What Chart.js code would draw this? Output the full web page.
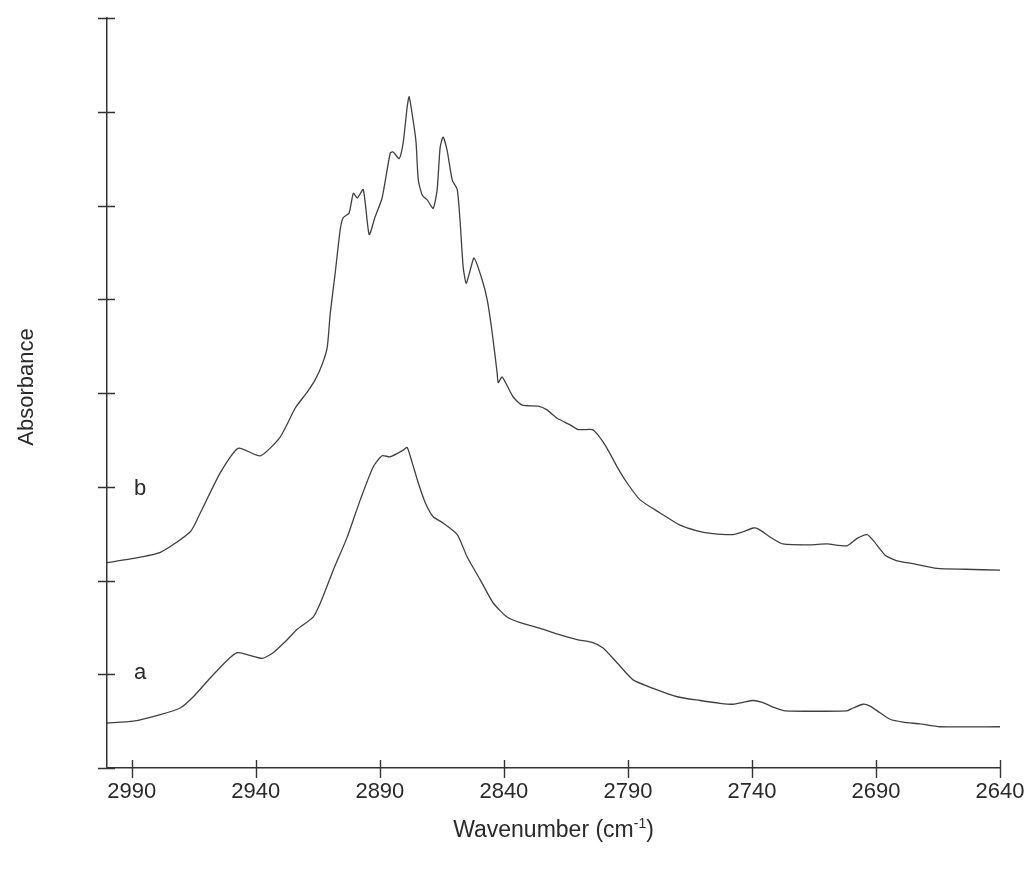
<!DOCTYPE html>
<html>
<head>
<meta charset="utf-8">
<script src="https://cdn.jsdelivr.net/npm/chart.js@4.4.1/dist/chart.umd.min.js"></script>
<style>
  html, body { margin: 0; padding: 0; background: #ffffff; }
  canvas { display: block; }
</style>
</head>
<body>
<canvas id="spectrum" width="1032" height="876"></canvas>
<script>
// Axis ticks (wavenumber axis runs from high to low)
const xTickValues = [2990, 2940, 2890, 2840, 2790, 2740, 2690, 2640];
const yTickValues = [0, 0.1, 0.2, 0.3, 0.4, 0.5, 0.6, 0.7, 0.8];

// Spectrum a
const wavenumberA = [3000.0, 2989.4, 2978.5, 2970.5, 2965.2, 2958.4, 2951.5, 2947.5, 2943.5, 2937.4,
  2933.0, 2927.3, 2923.3, 2916.9, 2914.0, 2908.8, 2903.2, 2897.9, 2892.7, 2889.1,
  2885.8, 2880.6, 2879.0, 2877.0, 2874.5, 2871.7, 2868.5, 2864.9, 2858.8, 2854.8,
  2849.6, 2844.3, 2838.7, 2833.4, 2825.4, 2817.3, 2810.5, 2804.4, 2800.0, 2794.3,
  2787.9, 2779.8, 2770.2, 2760.9, 2752.8, 2747.6, 2743.6, 2739.5, 2735.9, 2731.5,
  2726.6, 2701.7, 2699.2, 2695.2, 2692.4, 2688.4, 2684.3, 2679.1, 2672.2, 2664.2, 2640.0];
const absorbanceA = [0.048, 0.050, 0.057, 0.064, 0.076, 0.096, 0.115, 0.123, 0.121, 0.117,
  0.123, 0.137, 0.148, 0.161, 0.176, 0.211, 0.246, 0.286, 0.321, 0.333,
  0.332, 0.339, 0.342, 0.326, 0.304, 0.283, 0.268, 0.262, 0.249, 0.225,
  0.201, 0.176, 0.161, 0.155, 0.149, 0.142, 0.137, 0.134, 0.128, 0.112,
  0.094, 0.085, 0.076, 0.072, 0.069, 0.068, 0.070, 0.072, 0.070, 0.065,
  0.061, 0.061, 0.064, 0.068, 0.066, 0.059, 0.052, 0.049, 0.047, 0.044, 0.044];

// Spectrum b
const wavenumberB = [3000.0, 2990.6, 2978.5, 2966.4, 2962.4, 2954.3, 2947.1, 2938.2, 2930.2, 2924.1,
  2919.3, 2916.1, 2913.2, 2911.2, 2910.0, 2908.0, 2906.0, 2904.8, 2902.4, 2900.7,
  2899.1, 2896.7, 2894.3, 2891.9, 2889.1, 2885.8, 2884.6, 2882.2, 2880.6, 2879.0,
  2878.2, 2876.6, 2875.4, 2874.5, 2872.9, 2870.9, 2868.5, 2866.9, 2865.7, 2864.5,
  2862.9, 2860.8, 2858.8, 2857.6, 2856.4, 2855.2, 2853.6, 2852.0, 2848.8, 2846.7,
  2844.7, 2842.7, 2842.3, 2840.7, 2836.3, 2832.6, 2826.2, 2822.6, 2818.5, 2813.3,
  2810.1, 2804.4, 2802.0, 2798.4, 2794.3, 2790.3, 2785.1, 2777.0, 2769.0, 2762.1,
  2755.7, 2747.6, 2743.6, 2739.5, 2737.5, 2731.9, 2727.5, 2716.6, 2709.7, 2701.7,
  2697.6, 2693.6, 2691.2, 2686.3, 2681.5, 2675.1, 2665.4, 2654.1, 2640.0];
const absorbanceB = [0.219, 0.223, 0.230, 0.252, 0.272, 0.315, 0.341, 0.333, 0.353, 0.384,
  0.401, 0.414, 0.431, 0.449, 0.485, 0.528, 0.574, 0.587, 0.592, 0.613,
  0.608, 0.617, 0.569, 0.588, 0.608, 0.656, 0.657, 0.650, 0.667, 0.705,
  0.716, 0.691, 0.667, 0.627, 0.611, 0.606, 0.597, 0.617, 0.662, 0.673,
  0.659, 0.627, 0.617, 0.581, 0.534, 0.517, 0.531, 0.544, 0.521, 0.499,
  0.464, 0.421, 0.411, 0.417, 0.396, 0.387, 0.386, 0.382, 0.373, 0.366,
  0.361, 0.361, 0.355, 0.341, 0.321, 0.304, 0.286, 0.272, 0.259, 0.253,
  0.250, 0.249, 0.252, 0.256, 0.255, 0.245, 0.239, 0.238, 0.239, 0.237,
  0.245, 0.249, 0.243, 0.227, 0.221, 0.218, 0.213, 0.212, 0.211];

// Series tags drawn beside each trace
const tagNames = ['a', 'b'];
const tagWavenumber = [2986.6, 2986.6];
const tagAbsorbance = [0.101, 0.298];

const toPoints = (xs, ys) => xs.map((x, i) => ({ x: x, y: ys[i] }));

const FONT = '"Liberation Sans", Arial, Helvetica, sans-serif';
const INK = '#2a2a2a';

// Axis decorations: crossing tick marks, axis titles and trace tags
const decorations = {
  id: 'decorations',
  afterDraw(chart) {
    const { ctx, chartArea, scales } = chart;
    const xs = scales.x, ys = scales.y;
    ctx.save();
    ctx.strokeStyle = '#333333';
    ctx.lineWidth = 1.4;
    ctx.beginPath();
    yTickValues.forEach(v => {
      const py = Math.round(ys.getPixelForValue(v)) + 0.5;
      ctx.moveTo(chartArea.left - 9, py);
      ctx.lineTo(chartArea.left + 8, py);
    });
    xTickValues.forEach(v => {
      const px = Math.round(xs.getPixelForValue(v)) + 0.5;
      ctx.moveTo(px, chartArea.bottom - 8);
      ctx.lineTo(px, chartArea.bottom + 10);
    });
    ctx.stroke();

    ctx.fillStyle = INK;
    ctx.textAlign = 'center';
    ctx.textBaseline = 'middle';

    // y title
    ctx.save();
    ctx.font = '22px ' + FONT;
    ctx.translate(27, 387);
    ctx.rotate(-Math.PI / 2);
    ctx.fillText('Absorbance', 0, 0);
    ctx.restore();

    // x title with superscript
    const base = 'Wavenumber (cm';
    const sup = '-1';
    const tail = ')';
    ctx.font = '23px ' + FONT;
    const wBase = ctx.measureText(base).width;
    const wTail = ctx.measureText(tail).width;
    ctx.font = '14px ' + FONT;
    const wSup = ctx.measureText(sup).width;
    const total = wBase + wSup + wTail;
    const x0 = (chartArea.left + chartArea.right) / 2 - total / 2;
    const ty = 831;
    ctx.textAlign = 'left';
    ctx.font = '23px ' + FONT;
    ctx.fillText(base, x0, ty);
    ctx.font = '14px ' + FONT;
    ctx.fillText(sup, x0 + wBase, ty - 7);
    ctx.font = '23px ' + FONT;
    ctx.fillText(tail, x0 + wBase + wSup, ty);

    // trace tags
    ctx.textAlign = 'center';
    ctx.font = '22px ' + FONT;
    tagNames.forEach((t, i) => {
      ctx.fillText(t, xs.getPixelForValue(tagWavenumber[i]), ys.getPixelForValue(tagAbsorbance[i]));
    });
    ctx.restore();
  }
};

new Chart(document.getElementById('spectrum'), {
  type: 'line',
  data: {
    datasets: [
      {
        label: 'a',
        data: toPoints(wavenumberA, absorbanceA),
        borderColor: '#404040',
        borderWidth: 1.3,
        pointRadius: 0,
        tension: 0.2,
        fill: false
      },
      {
        label: 'b',
        data: toPoints(wavenumberB, absorbanceB),
        borderColor: '#404040',
        borderWidth: 1.3,
        pointRadius: 0,
        tension: 0.2,
        fill: false
      }
    ]
  },
  options: {
    responsive: false,
    animation: false,
    devicePixelRatio: 1,
    layout: { padding: { left: 107, right: 32, top: 18, bottom: 0 } },
    plugins: { legend: { display: false }, tooltip: { enabled: false } },
    scales: {
      x: {
        type: 'linear',
        reverse: true,
        min: 2640,
        max: 3000,
        afterBuildTicks: s => { s.ticks = xTickValues.map(v => ({ value: v })); },
        afterFit: s => { s.height = 108; },
        grid: { display: true, drawOnChartArea: false, drawTicks: true, tickLength: 10, color: 'rgba(0,0,0,0)' },
        border: { display: true, color: '#333333', width: 1.5 },
        ticks: {
          autoSkip: false,
          maxRotation: 0,
          padding: 1,
          color: INK,
          font: { family: FONT, size: 22 },
          callback: v => String(v)
        }
      },
      y: {
        type: 'linear',
        min: 0,
        max: 0.8,
        afterBuildTicks: s => { s.ticks = yTickValues.map(v => ({ value: v })); },
        afterFit: s => { s.width = 0; },
        grid: { display: false },
        border: { display: true, color: '#333333', width: 1.5 },
        ticks: { display: false }
      }
    }
  },
  plugins: [decorations]
});
</script>
</body>
</html>
